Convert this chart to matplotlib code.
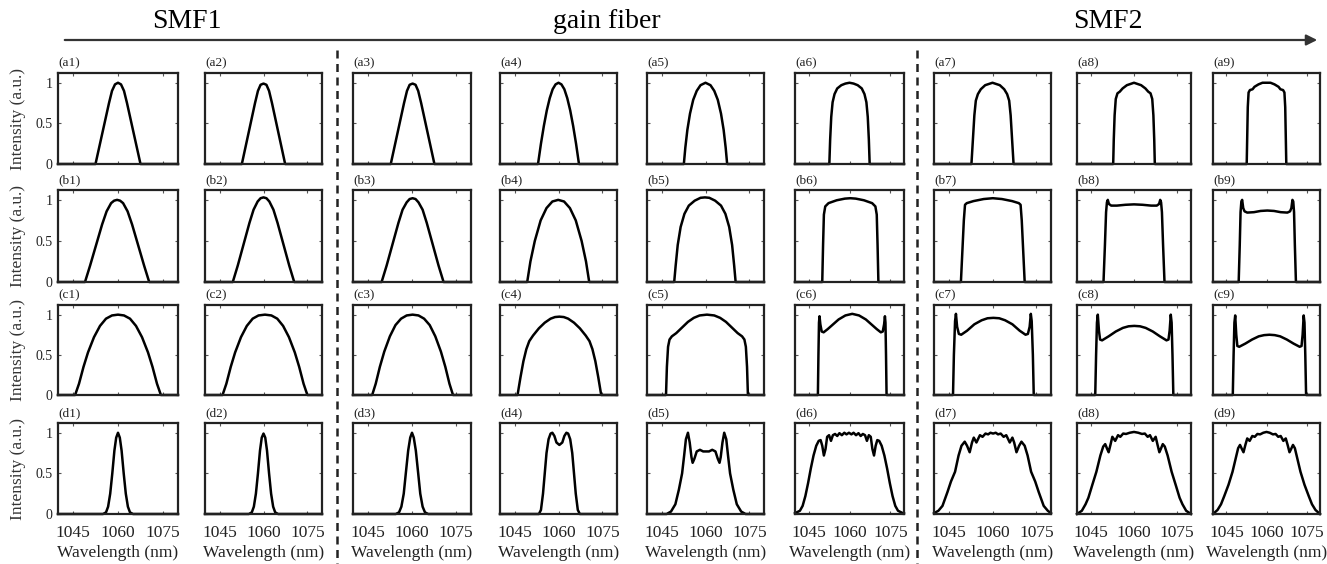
import matplotlib.pyplot as plt

plt.rcParams['font.family'] = ['Liberation Serif', 'DejaVu Serif']

W, H = 1327, 564

# spectra (wavelength in nm, normalised intensity)
# row a
x_a1 = [1040, 1052.5, 1054, 1055.5, 1057, 1058, 1059, 1060, 1061, 1062, 1063, 1064.5, 1066, 1067.5, 1080]
y_a1 = [0, 0, 0.25, 0.5, 0.75, 0.9, 0.98, 1.0, 0.98, 0.9, 0.75, 0.5, 0.25, 0, 0]
x_a2 = [1040, 1052.6, 1054.1, 1055.6, 1057.1, 1058.1, 1059, 1060, 1061, 1061.9, 1062.9, 1064.4, 1065.9, 1067.4, 1080]
y_a2 = [0, 0, 0.25, 0.5, 0.75, 0.9, 0.975, 0.99, 0.975, 0.9, 0.75, 0.5, 0.25, 0, 0]
x_a3 = [1040, 1052.8, 1054.3, 1055.8, 1057.3, 1058.3, 1059.2, 1060.2, 1061.2, 1062.1, 1063.1, 1064.6, 1066.1, 1067.6, 1080]
y_a3 = [0, 0, 0.25, 0.5, 0.75, 0.9, 0.975, 0.99, 0.975, 0.9, 0.75, 0.5, 0.25, 0, 0]
x_a4 = [1040, 1053, 1054, 1055, 1056, 1057, 1058, 1059, 1060, 1061, 1062, 1063, 1064, 1065, 1066, 1067, 1080]
y_a4 = [0, 0, 0.25, 0.47, 0.66, 0.81, 0.92, 0.98, 1.0, 0.98, 0.92, 0.81, 0.66, 0.47, 0.25, 0, 0]
x_a5 = [1040, 1052.6, 1053.1, 1053.8, 1054.7, 1055.8, 1057, 1058.3, 1060, 1061.7, 1063, 1064.2, 1065.3, 1066.2, 1066.9, 1067.4, 1080]
y_a5 = [0, 0, 0.2, 0.42, 0.62, 0.79, 0.9, 0.97, 1.0, 0.97, 0.9, 0.79, 0.62, 0.42, 0.2, 0, 0]
x_a6 = [1040, 1052.6, 1052.9, 1053.3, 1053.8, 1054.5, 1055.5, 1057, 1058.5, 1060, 1061.5, 1063, 1064.5, 1065.5, 1066.2, 1066.7, 1067.1, 1067.4, 1080]
y_a6 = [0, 0, 0.3, 0.58, 0.76, 0.86, 0.93, 0.97, 0.99, 1.0, 0.99, 0.97, 0.93, 0.86, 0.76, 0.58, 0.3, 0, 0]
x_a7 = [1040, 1052.8, 1053.3, 1053.8, 1054.3, 1055, 1056, 1057.5, 1060, 1062.5, 1064, 1065, 1065.7, 1066.2, 1066.7, 1067.2, 1080]
y_a7 = [0, 0, 0.3, 0.6, 0.78, 0.86, 0.92, 0.97, 1.0, 0.97, 0.92, 0.86, 0.78, 0.6, 0.3, 0, 0]
x_a8 = [1040, 1052.7, 1052.9, 1053.2, 1053.6, 1054.2, 1055, 1056, 1057.5, 1060, 1062.5, 1064, 1065, 1065.8, 1066.4, 1066.8, 1067.1, 1067.3, 1080]
y_a8 = [0, 0, 0.3, 0.6, 0.8, 0.87, 0.89, 0.93, 0.97, 1.0, 0.97, 0.93, 0.89, 0.87, 0.8, 0.6, 0.3, 0, 0]
x_a9 = [1040, 1052.6, 1052.8, 1053.0, 1053.3, 1053.8, 1054.8, 1055.5, 1057, 1058.5, 1060, 1061.5, 1063, 1064.5, 1065.2, 1066.2, 1066.7, 1067.0, 1067.2, 1067.4, 1080]
y_a9 = [0, 0, 0.35, 0.7, 0.88, 0.91, 0.92, 0.95, 0.98, 1.0, 1.0, 1.0, 0.98, 0.95, 0.92, 0.91, 0.88, 0.7, 0.35, 0, 0]

# row b
x_b1 = [1040, 1049, 1050.7, 1052.7, 1054.7, 1056.2, 1057.7, 1058.7, 1059.7, 1060.7, 1061.7, 1063.2, 1064.7, 1066.7, 1068.7, 1070.4, 1080]
y_b1 = [0, 0, 0.2, 0.45, 0.7, 0.86, 0.96, 0.99, 1.0, 0.99, 0.96, 0.86, 0.7, 0.45, 0.2, 0, 0]
x_b2 = [1040, 1049.5, 1051.2, 1053.2, 1055.2, 1056.6, 1058, 1059, 1060, 1061, 1062, 1063.4, 1064.8, 1066.8, 1068.8, 1070.5, 1080]
y_b2 = [0, 0, 0.2, 0.46, 0.72, 0.88, 0.98, 1.02, 1.03, 1.02, 0.98, 0.88, 0.72, 0.46, 0.2, 0, 0]
x_b3 = [1040, 1049.7, 1051.4, 1053.4, 1055.4, 1056.8, 1058.2, 1059.2, 1060.2, 1061.2, 1062.2, 1063.6, 1065, 1067, 1069, 1070.7, 1080]
y_b3 = [0, 0, 0.2, 0.46, 0.72, 0.88, 0.97, 1.01, 1.02, 1.01, 0.97, 0.88, 0.72, 0.46, 0.2, 0, 0]
x_b4 = [1040, 1049.3, 1050.4, 1051.9, 1053.9, 1055.9, 1057.9, 1059.9, 1061.9, 1063.9, 1065.9, 1067.9, 1069.4, 1070.5, 1080]
y_b4 = [0, 0, 0.25, 0.5, 0.75, 0.9, 0.98, 1.0, 0.98, 0.9, 0.75, 0.5, 0.25, 0, 0]
x_b5 = [1040, 1049.3, 1049.8, 1050.5, 1051.5, 1052.8, 1054.3, 1056.3, 1058.3, 1059.8, 1061.3, 1063.3, 1065.3, 1066.8, 1068.1, 1069.1, 1069.8, 1070.3, 1080]
y_b5 = [0, 0, 0.2, 0.45, 0.67, 0.83, 0.93, 0.99, 1.025, 1.03, 1.025, 0.99, 0.93, 0.83, 0.67, 0.45, 0.2, 0, 0]
x_b6 = [1040, 1050, 1050.3, 1050.6, 1051.1, 1052.3, 1055.3, 1058.3, 1060.3, 1062.3, 1065.3, 1068.3, 1069.5, 1070.0, 1070.3, 1070.6, 1080]
y_b6 = [0, 0, 0.45, 0.82, 0.92, 0.96, 0.995, 1.015, 1.02, 1.015, 0.995, 0.96, 0.92, 0.82, 0.45, 0, 0]
x_b7 = [1040, 1049.2, 1049.6, 1050.2, 1050.6, 1051.2, 1053.5, 1057, 1060.1, 1063.2, 1066.7, 1069, 1069.6, 1070.0, 1070.6, 1071.0, 1080]
y_b7 = [0, 0, 0.3, 0.75, 0.94, 0.96, 0.985, 1.01, 1.02, 1.01, 0.985, 0.96, 0.94, 0.75, 0.3, 0, 0]
x_b8 = [1040, 1049.3, 1049.8, 1050.2, 1050.5, 1050.8, 1051.2, 1052, 1054, 1057, 1060, 1063, 1066, 1068, 1068.8, 1069.2, 1069.5, 1069.8, 1070.2, 1070.7, 1080]
y_b8 = [0, 0, 0.45, 0.85, 0.97, 1.0, 0.95, 0.93, 0.93, 0.94, 0.945, 0.94, 0.93, 0.93, 0.95, 1.0, 0.97, 0.85, 0.45, 0, 0]
x_b9 = [1040, 1049.6, 1050.0, 1050.3, 1050.6, 1050.9, 1051.3, 1051.8, 1052.8, 1055.3, 1057.8, 1060.3, 1062.8, 1065.3, 1067.8, 1068.8, 1069.3, 1069.7, 1070.0, 1070.3, 1070.6, 1071.0, 1080]
y_b9 = [0, 0, 0.45, 0.85, 0.98, 1.0, 0.9, 0.86, 0.845, 0.85, 0.865, 0.87, 0.865, 0.85, 0.845, 0.86, 0.9, 1.0, 0.98, 0.85, 0.45, 0, 0]

# row c
x_c1 = [1040, 1045.7, 1047, 1048.5, 1050, 1052, 1054, 1056, 1058, 1060, 1062, 1064, 1066, 1068, 1070, 1071.5, 1073, 1074.3, 1080]
y_c1 = [0, 0, 0.14, 0.35, 0.53, 0.72, 0.86, 0.95, 0.99, 1.0, 0.99, 0.95, 0.86, 0.72, 0.53, 0.35, 0.14, 0, 0]
x_c2 = [1040, 1046, 1047.3, 1048.8, 1050.3, 1052.3, 1054.3, 1056.3, 1058.3, 1060.5, 1062.7, 1064.7, 1066.7, 1068.7, 1070.7, 1072.2, 1073.7, 1075, 1080]
y_c2 = [0, 0, 0.14, 0.35, 0.53, 0.72, 0.86, 0.95, 0.99, 1.0, 0.99, 0.95, 0.86, 0.72, 0.53, 0.35, 0.14, 0, 0]
x_c3 = [1040, 1046.5, 1047.7, 1049.1, 1050.6, 1052.5, 1054.4, 1056.3, 1058.2, 1060.2, 1062.2, 1064.1, 1066, 1067.9, 1069.8, 1071.3, 1072.7, 1073.9, 1080]
y_c3 = [0, 0, 0.14, 0.35, 0.54, 0.73, 0.87, 0.95, 0.99, 1.0, 0.99, 0.95, 0.87, 0.73, 0.54, 0.35, 0.14, 0, 0]
x_c4 = [1040, 1046, 1047, 1048, 1049, 1050, 1051.3, 1053.3, 1055.3, 1057.3, 1058.8, 1060.3, 1061.8, 1063.3, 1065.3, 1067.3, 1069.3, 1070.6, 1071.6, 1072.6, 1073.6, 1074.6, 1080]
y_c4 = [0, 0, 0.22, 0.42, 0.57, 0.67, 0.74, 0.83, 0.9, 0.95, 0.97, 0.975, 0.97, 0.95, 0.9, 0.83, 0.74, 0.67, 0.57, 0.42, 0.22, 0, 0]
x_c5 = [1040, 1046.5, 1046.8, 1047.2, 1047.7, 1048.5, 1050, 1052, 1054, 1056, 1058, 1060.5, 1063, 1065, 1067, 1069, 1071, 1072.5, 1073.3, 1073.8, 1074.2, 1074.5, 1080]
y_c5 = [0, 0, 0.35, 0.6, 0.69, 0.73, 0.77, 0.84, 0.91, 0.96, 0.99, 1.0, 0.99, 0.96, 0.91, 0.84, 0.77, 0.73, 0.69, 0.6, 0.35, 0, 0]
x_c6 = [1040, 1048.4, 1048.6, 1048.8, 1049.0, 1049.3, 1049.8, 1050.5, 1052, 1054, 1056, 1058.5, 1061, 1063.5, 1066, 1068, 1070, 1071.5, 1072.2, 1072.7, 1073.0, 1073.2, 1073.4, 1073.6, 1080]
y_c6 = [0, 0, 0.5, 0.9, 0.98, 0.88, 0.79, 0.78, 0.82, 0.88, 0.94, 0.99, 1.01, 0.99, 0.94, 0.88, 0.82, 0.78, 0.79, 0.88, 0.98, 0.9, 0.5, 0, 0]
x_c7 = [1040, 1046.5, 1046.8, 1047.2, 1047.5, 1047.9, 1048.5, 1049.3, 1051.3, 1053.8, 1056.3, 1058.3, 1060.3, 1062.3, 1064.3, 1066.8, 1069.3, 1071.3, 1072.1, 1072.7, 1073.1, 1073.4, 1073.8, 1074.1, 1080]
y_c7 = [0, 0, 0.5, 0.92, 1.01, 0.85, 0.76, 0.75, 0.8, 0.88, 0.93, 0.955, 0.96, 0.955, 0.93, 0.88, 0.8, 0.75, 0.76, 0.85, 1.01, 0.92, 0.5, 0, 0]
x_c8 = [1040, 1046.4, 1046.7, 1047.0, 1047.3, 1047.7, 1048.1, 1048.8, 1051.1, 1053.6, 1056.1, 1058.1, 1060.1, 1062.1, 1064.1, 1066.6, 1069.1, 1071.4, 1072.1, 1072.5, 1072.9, 1073.2, 1073.5, 1073.8, 1080]
y_c8 = [0, 0, 0.5, 0.9, 1.0, 0.8, 0.69, 0.68, 0.73, 0.79, 0.835, 0.855, 0.86, 0.855, 0.835, 0.79, 0.73, 0.68, 0.69, 0.8, 1.0, 0.9, 0.5, 0, 0]
x_c9 = [1040, 1047.4, 1047.7, 1048.0, 1048.3, 1048.7, 1049.1, 1049.8, 1052.1, 1054.6, 1057.1, 1059.1, 1061.1, 1063.1, 1065.1, 1067.6, 1070.1, 1072.4, 1073.1, 1073.5, 1073.9, 1074.2, 1074.5, 1074.8, 1080]
y_c9 = [0, 0, 0.5, 0.9, 0.99, 0.75, 0.61, 0.6, 0.64, 0.69, 0.73, 0.745, 0.75, 0.745, 0.73, 0.69, 0.64, 0.6, 0.61, 0.75, 0.99, 0.9, 0.5, 0, 0]

# row d
x_d1 = [1040, 1055, 1056, 1056.7, 1057.4, 1058.1, 1058.8, 1059.4, 1060, 1060.6, 1061.2, 1061.9, 1062.6, 1063.3, 1064, 1065, 1080]
y_d1 = [0, 0, 0.02, 0.09, 0.25, 0.5, 0.78, 0.94, 1.0, 0.94, 0.78, 0.5, 0.25, 0.09, 0.02, 0, 0]
x_d2 = [1040, 1055, 1056, 1056.7, 1057.4, 1058.1, 1058.8, 1059.4, 1060, 1060.6, 1061.2, 1061.9, 1062.6, 1063.3, 1064, 1065, 1080]
y_d2 = [0, 0, 0.02, 0.09, 0.25, 0.5, 0.78, 0.94, 0.99, 0.94, 0.78, 0.5, 0.25, 0.09, 0.02, 0, 0]
x_d3 = [1040, 1054.5, 1055.6, 1056.4, 1057.2, 1057.9, 1058.7, 1059.4, 1060, 1060.6, 1061.3, 1062.1, 1062.8, 1063.6, 1064.4, 1065.5, 1080]
y_d3 = [0, 0, 0.02, 0.09, 0.25, 0.5, 0.78, 0.94, 1.0, 0.94, 0.78, 0.5, 0.25, 0.09, 0.02, 0, 0]
x_d4 = [1040, 1053.3, 1054, 1054.7, 1055.3, 1055.9, 1056.6, 1057.3, 1057.9, 1058.6, 1059.3, 1060.3, 1061.3, 1062, 1062.7, 1063.3, 1064, 1064.7, 1065.3, 1065.9, 1066.6, 1067.3, 1080]
y_d4 = [0, 0, 0.05, 0.25, 0.5, 0.75, 0.92, 0.99, 1.0, 0.96, 0.88, 0.85, 0.88, 0.96, 1.0, 0.99, 0.92, 0.75, 0.5, 0.25, 0.05, 0, 0]
x_d5 = [1040, 1046.7, 1048.2, 1049.7, 1050.9, 1052, 1052.7, 1053.3, 1054, 1054.6, 1055.2, 1055.6, 1056.2, 1057, 1058.1, 1059.2, 1060.2,
        1061.2, 1062.3, 1063.4, 1064.2, 1064.8, 1065.2, 1065.8, 1066.4, 1067.1, 1067.7, 1068.4, 1069.5, 1070.7, 1072.2, 1073.7, 1080]
y_d5 = [0, 0, 0.03, 0.12, 0.3, 0.5, 0.72, 0.92, 1.0, 0.88, 0.7, 0.63, 0.68, 0.77, 0.79, 0.77, 0.77,
        0.77, 0.79, 0.77, 0.68, 0.63, 0.7, 0.88, 1.0, 0.92, 0.72, 0.5, 0.3, 0.12, 0.03, 0, 0]
x_d6 = [1040, 1041.8, 1042.8, 1043.8, 1044.8, 1045.8, 1046.8, 1047.8, 1048.7, 1049.4, 1050, 1050.6, 1051.2, 1051.8, 1052.5, 1053.2,
        1053.9, 1054.7, 1055.5, 1056.3, 1057.2, 1058.1, 1058.9, 1059.8,
        1060.7, 1061.5, 1062.4, 1063.3, 1064.1, 1064.9, 1065.7, 1066.4, 1067.1, 1067.8, 1068.4, 1069, 1069.6, 1070.2, 1070.9,
        1071.8, 1072.8, 1073.8, 1074.8, 1075.8, 1076.8, 1077.8, 1079.6, 1080]
y_d6 = [0.01, 0.04, 0.1, 0.22, 0.38, 0.56, 0.72, 0.84, 0.9, 0.91, 0.84, 0.72, 0.8, 0.95, 0.97, 0.9,
        0.97, 0.985, 0.96, 0.995, 0.97, 1.0, 0.98, 1.0,
        0.98, 1.0, 0.97, 0.995, 0.96, 0.985, 0.97, 0.9, 0.97, 0.95, 0.8, 0.72, 0.84, 0.91, 0.9,
        0.84, 0.72, 0.56, 0.38, 0.22, 0.1, 0.04, 0.01, 0.01]
x_d7 = [1040, 1041.5, 1042.9, 1044.6, 1045.8, 1047.2, 1048.4, 1049.4, 1050.5, 1051.3, 1052.2, 1053, 1053.6, 1054.5, 1055.7, 1056.6,
        1057.6, 1058.5, 1059.3, 1060.2, 1061.1, 1061.9, 1062.8, 1063.8, 1064.7, 1065.9, 1066.8, 1067.4, 1068.2, 1069.1,
        1069.9, 1071, 1072, 1073.2, 1074.6, 1075.8, 1077.5, 1078.9, 1080]
y_d7 = [0.01, 0.04, 0.1, 0.27, 0.4, 0.52, 0.72, 0.84, 0.89, 0.84, 0.76, 0.88, 0.94, 0.88, 0.97, 0.95,
        0.99, 0.98, 1.0, 0.99, 1.0, 0.98, 0.99, 0.95, 0.97, 0.88, 0.94, 0.88, 0.76, 0.84,
        0.89, 0.84, 0.72, 0.52, 0.4, 0.27, 0.1, 0.04, 0.01]
x_d8 = [1040, 1041.7, 1043, 1044, 1045.3, 1046.8, 1048.2, 1049.2, 1049.9, 1050.6, 1051.1, 1051.8, 1052.4, 1053.4, 1054.4, 1055.2,
        1056.2, 1057.2, 1058.5, 1060, 1061.5, 1062.8, 1063.8, 1064.8, 1065.6, 1066.6, 1067.6, 1068.2, 1068.9, 1069.4,
        1070.1, 1070.8, 1071.8, 1073.2, 1074.7, 1076, 1077, 1078.3, 1080]
y_d8 = [0.0, 0.04, 0.12, 0.2, 0.35, 0.52, 0.72, 0.83, 0.86, 0.8, 0.76, 0.86, 0.95, 0.9, 0.97, 0.95,
        0.99, 0.985, 1.0, 1.01, 1.0, 0.985, 0.99, 0.95, 0.97, 0.9, 0.95, 0.86, 0.76, 0.8,
        0.86, 0.83, 0.72, 0.52, 0.35, 0.2, 0.12, 0.04, 0.0]
x_d9 = [1040, 1041.7, 1043, 1044.2, 1045.8, 1047.3, 1048.6, 1049.4, 1050.1, 1050.8, 1051.4, 1052.1, 1052.8, 1053.7, 1054.7, 1055.6,
        1056.6, 1057.6, 1058.8, 1060, 1061.2, 1062.4, 1063.4, 1064.4, 1065.3, 1066.3, 1067.2, 1067.9, 1068.6, 1069.2,
        1069.9, 1070.6, 1071.4, 1072.7, 1074.2, 1075.8, 1077, 1078.3, 1080]
y_d9 = [0.0, 0.05, 0.12, 0.22, 0.36, 0.52, 0.7, 0.81, 0.85, 0.8, 0.76, 0.85, 0.93, 0.9, 0.96, 0.95,
        0.985, 0.98, 1.0, 1.01, 1.0, 0.98, 0.985, 0.95, 0.96, 0.9, 0.93, 0.85, 0.76, 0.8,
        0.85, 0.81, 0.7, 0.52, 0.36, 0.22, 0.12, 0.05, 0.0]

curves = {
    'a1': (x_a1, y_a1), 'a2': (x_a2, y_a2), 'a3': (x_a3, y_a3), 'a4': (x_a4, y_a4), 'a5': (x_a5, y_a5),
    'a6': (x_a6, y_a6), 'a7': (x_a7, y_a7), 'a8': (x_a8, y_a8), 'a9': (x_a9, y_a9),
    'b1': (x_b1, y_b1), 'b2': (x_b2, y_b2), 'b3': (x_b3, y_b3), 'b4': (x_b4, y_b4), 'b5': (x_b5, y_b5),
    'b6': (x_b6, y_b6), 'b7': (x_b7, y_b7), 'b8': (x_b8, y_b8), 'b9': (x_b9, y_b9),
    'c1': (x_c1, y_c1), 'c2': (x_c2, y_c2), 'c3': (x_c3, y_c3), 'c4': (x_c4, y_c4), 'c5': (x_c5, y_c5),
    'c6': (x_c6, y_c6), 'c7': (x_c7, y_c7), 'c8': (x_c8, y_c8), 'c9': (x_c9, y_c9),
    'd1': (x_d1, y_d1), 'd2': (x_d2, y_d2), 'd3': (x_d3, y_d3), 'd4': (x_d4, y_d4), 'd5': (x_d5, y_d5),
    'd6': (x_d6, y_d6), 'd7': (x_d7, y_d7), 'd8': (x_d8, y_d8), 'd9': (x_d9, y_d9),
}

x_ticks = [1045, 1060, 1075]
y_ticks = [0, 0.5, 1]
y_ticklabels = ['0', '0.5', '1']
stages = ['SMF1', 'gain fiber', 'SMF2']
rows = ['a', 'b', 'c', 'd']

# panel boxes in pixels (left, right) / (top, bottom)
col_px = [(58, 178), (205, 322), (353, 471), (500, 617), (647, 764),
          (795, 904), (934, 1051), (1077, 1191), (1213, 1320)]
row_px = [(73, 164), (190, 282), (305, 395), (423, 514)]

fig = plt.figure(figsize=(W / 100, H / 100), dpi=100)

for r, row in enumerate(rows):
    top, bottom = row_px[r]
    for c in range(9):
        left, right = col_px[c]
        ax = fig.add_axes([left / W, 1 - bottom / H, (right - left) / W, (bottom - top) / H])
        xs, ys = curves[f'{row}{c + 1}']
        ax.plot(xs, ys, color='black', lw=1.8, solid_joinstyle='round', clip_on=False)
        ax.set_xlim(1040, 1080)
        ax.set_ylim(0, 1.12)
        ax.set_xticks(x_ticks)
        ax.set_yticks(y_ticks)
        ax.tick_params(direction='in', length=2.5, width=0.8, top=True, right=True,
                       color='#555555', labelcolor='#222222')
        ax.tick_params(axis='x', labelsize=12.5, pad=8)
        ax.tick_params(axis='y', labelsize=10, pad=4)
        for sp in ax.spines.values():
            sp.set_linewidth(1.6)
            sp.set_color('#222222')
        if c == 0:
            ax.set_yticklabels(y_ticklabels)
        else:
            ax.set_yticklabels([])
        if row == 'd':
            ax.set_xlabel('Wavelength (nm)', fontsize=12.5, color='#222222', labelpad=3)
        else:
            ax.set_xticklabels([])
        ax.text(0.0, 1.04, f'({row}{c + 1})', transform=ax.transAxes, fontsize=9.5,
                color='#222222', ha='left', va='bottom')
    fig.text(18 / W, 1 - (top + bottom) / 2 / H, 'Intensity (a.u.)', rotation=90,
             ha='center', va='center', fontsize=12.5, color='#333333')

# overlay in pixel coordinates for the headings, arrow and dashed separators
ov = fig.add_axes([0, 0, 1, 1], zorder=-1)
ov.set_xlim(0, W)
ov.set_ylim(H, 0)
ov.axis('off')
ov.annotate('', xy=(1320, 40), xytext=(62, 40),
            arrowprops=dict(arrowstyle='-|>', lw=1.6, color='#333333', mutation_scale=16))
for xh, name in zip([187, 607, 1108], stages):
    ov.text(xh, 21, name, ha='center', va='center', fontsize=20, color='black')
for xd in [337, 917]:
    ov.plot([xd, xd], [50, 564], color='#222222', lw=1.8, ls=(0, (3.2, 2.2)))

fig.savefig('out.png', dpi=100)
